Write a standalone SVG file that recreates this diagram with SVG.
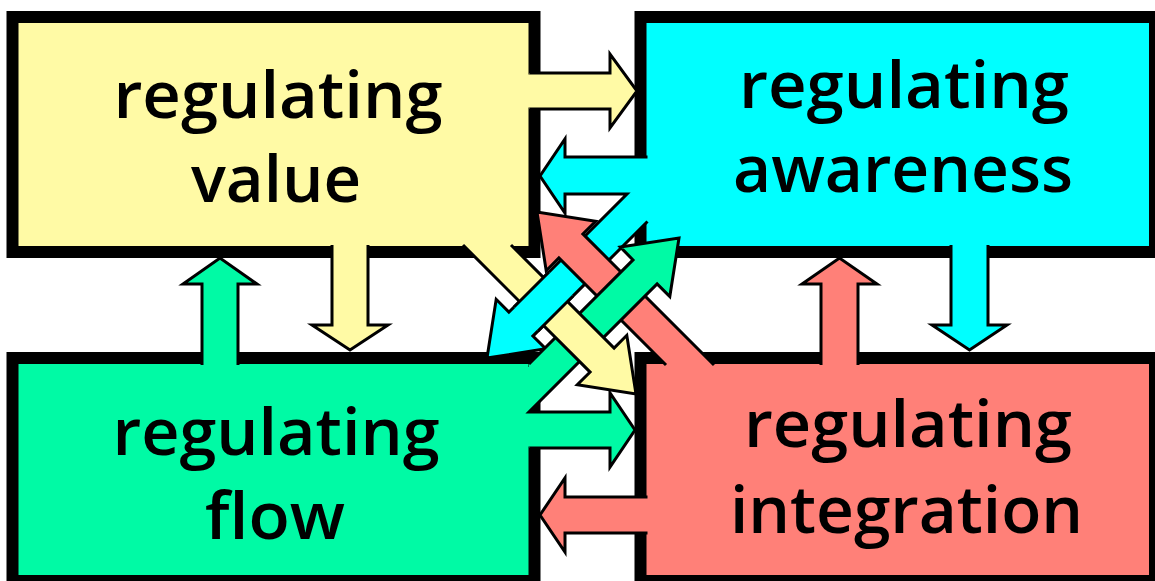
<svg xmlns="http://www.w3.org/2000/svg" width="1155" height="581" viewBox="0 0 1155 581">
<style>
.box{stroke:#000;stroke-width:12}
.lbl{font-family:"Open Sans","Liberation Sans",sans-serif;font-weight:600;font-size:66px;fill:#000;text-anchor:middle}
.arr{stroke:#000;stroke-width:3;stroke-linejoin:miter}
.y{fill:#FFFAA5}.c{fill:#00FFFF}.g{fill:#00FAA5}.r{fill:#FF8078}
</style>
<defs>
<clipPath id="cp"><polygon points="541.4,334.7 510.3,303.6 545.6,268.3 576.7,299.4"/></clipPath>
</defs>
<rect width="1155" height="581" fill="#fff"/>
<g id="node-value">
<rect class="box y" x="12.5" y="17" width="522" height="235"/>
<text class="lbl" x="278" y="118" textLength="329" lengthAdjust="spacingAndGlyphs">regulating</text>
<text class="lbl" x="276" y="202" textLength="170" lengthAdjust="spacingAndGlyphs">value</text>
</g>
<g id="node-awareness">
<rect class="box c" x="640.5" y="17" width="514.5" height="235"/>
<text class="lbl" x="904" y="108" textLength="330" lengthAdjust="spacingAndGlyphs">regulating</text>
<text class="lbl" x="903" y="192" textLength="340" lengthAdjust="spacingAndGlyphs">awareness</text>
</g>
<g id="node-flow">
<rect class="box g" x="12.5" y="358" width="522" height="223"/>
<text class="lbl" x="276" y="455" textLength="327" lengthAdjust="spacingAndGlyphs">regulating</text>
<text class="lbl" x="275" y="539" textLength="140" lengthAdjust="spacingAndGlyphs">flow</text>
</g>
<g id="node-integration">
<rect class="box r" x="640.5" y="358" width="514.5" height="223"/>
<text class="lbl" x="908" y="447" textLength="328" lengthAdjust="spacingAndGlyphs">regulating</text>
<text class="lbl" x="906.5" y="533" textLength="353" lengthAdjust="spacingAndGlyphs">integration</text>
</g>
<g id="connectors">
<rect class="y" x="526" y="74.5" width="5" height="33"/>
<rect class="r" x="644.5" y="498.5" width="5" height="33"/>
<rect class="c" x="644.5" y="158.5" width="5" height="59"/>
<rect class="g" x="526" y="367" width="4" height="79.5"/>
<path class="arr y" d="M529.5,73 H610 V54 L637,91 L610,128 V109 H529.5"/>
<path class="arr y" d="M332,245 V325 H312 L350,350 L388,325 H368 V245"/>
<path class="arr g" d="M202,365 V284 H183 L220,258 L257,284 H238 V365"/>
<path class="arr r" d="M821,365 V284 H802 L839.5,258 L877,284 H858 V365"/>
<path class="arr c" d="M951,245 V325 H932 L969.5,350 L1007,325 H988 V245"/>
<path class="arr r" d="M647.5,497 H565 V478 L540,515 L565,552 V533 H647.5"/>
<path id="cyanArr" class="arr c" d="M647.5,157 H565 V139 L540,176 L565,213 V194 H627 L508.9,312.1 L496.2,299.3 L487,358 L545.7,348.8 L532.9,336.1 L647.5,221.5"/>
<path class="arr r" d="M714,365 L582.9,233.9 L595.7,221.2 L537,212 L546.2,270.7 L558.9,257.9 L666,365"/>
<path class="arr g" d="M529.5,448 H610 V467 L635,430 L610,393 V412 H529 L657.1,283.9 L669.8,296.6 L679,238 L620.3,247.1 L633,259.9 L529,364"/>
<path class="arr y" d="M463,245 L590.1,372.1 L577.3,384.8 L636,394 L626.8,335.3 L614.1,348.1 L511,245"/>
<use href="#cyanArr" clip-path="url(#cp)"/>
</g>
</svg>
